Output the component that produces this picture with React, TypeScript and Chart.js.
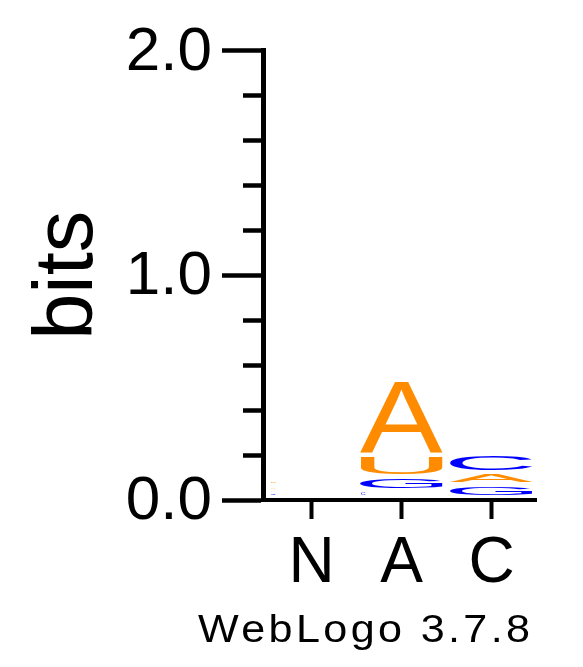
import { useEffect, useRef } from 'react';
import { Chart, registerables } from 'chart.js';

Chart.register(...registerables);

// ---- data ----
const categories = ['N', 'A', 'C'];
const positions = [0, 1, 2];

// stacked letters, bottom to top (bits)
const layer1Letters = ['C', 'C', 'G'];
const layer1Bits = [0.028, 0.031, 0.059];
const layer2Letters = ['A', 'G', 'A'];
const layer2Bits = [0.027, 0.062, 0.055];
const layer3Letters = ['U', 'U', 'C'];
const layer3Bits = [0.025, 0.097, 0.083];
const layer4Letters = ['', 'A', ''];
const layer4Bits = [0, 0.331, 0];

const yMajorTicks = [0, 1, 2];
const yTitle = 'bits';
const creditText = 'WebLogo 3.7.8';

const letterColors: Record<string, string> = {
  A: '#FF8C00',
  U: '#FF8C00',
  C: '#0000FF',
  G: '#0000FF',
};

const FONT = '"Liberation Sans", Arial, Helvetica, sans-serif';

const layers = [
  { letters: layer1Letters, bits: layer1Bits },
  { letters: layer2Letters, bits: layer2Bits },
  { letters: layer3Letters, bits: layer3Bits },
  { letters: layer4Letters, bits: layer4Bits },
];

const isMajor = (v: number) => yMajorTicks.some((m) => Math.abs(m - v) < 1e-6);

function drawGlyph(
  ctx: CanvasRenderingContext2D,
  letter: string,
  color: string,
  left: number,
  top: number,
  w: number,
  h: number
) {
  ctx.save();
  ctx.font = `100px ${FONT}`;
  ctx.textAlign = 'left';
  ctx.textBaseline = 'alphabetic';
  const m = ctx.measureText(letter);
  const inkW = m.actualBoundingBoxLeft + m.actualBoundingBoxRight;
  const inkH = m.actualBoundingBoxAscent + m.actualBoundingBoxDescent;
  ctx.translate(left, top);
  ctx.scale(w / inkW, h / inkH);
  ctx.fillStyle = color;
  ctx.fillText(letter, m.actualBoundingBoxLeft, m.actualBoundingBoxAscent);
  ctx.restore();
}

const glyphPlugin = {
  id: 'logoGlyphs',
  afterDatasetsDraw(chart: any) {
    const ctx: CanvasRenderingContext2D = chart.ctx;
    const area = chart.chartArea;
    ctx.save();
    ctx.beginPath();
    ctx.rect(area.left, area.top - 5, area.right - area.left, area.bottom - area.top + 5);
    ctx.clip();
    chart.data.datasets.forEach((ds: any, di: number) => {
      const meta = chart.getDatasetMeta(di);
      meta.data.forEach((el: any, i: number) => {
        const letter = ds.letters[i];
        const val = ds.data[i]?.y ?? 0;
        if (!letter || !val) return;
        const { x, y, base, width } = el.getProps(['x', 'y', 'base', 'width'], true);
        const top = Math.min(y, base);
        const bottom = Math.max(y, base);
        const pad = 4.5;
        let gh = bottom - pad - top;
        if (gh < 1) gh = 1;
        let left = x - width / 2;
        let gw = width;
        if (gh < 3.5) {
          gw = 4.5;
          left = left + 1;
        }
        drawGlyph(ctx, letter, letterColors[letter] || '#000', left, top, gw, gh);
      });
    });
    ctx.restore();
  },
};

const creditPlugin = {
  id: 'credit',
  afterDraw(chart: any) {
    const ctx: CanvasRenderingContext2D = chart.ctx;
    const area = chart.chartArea;
    const sx = 1.12;
    const spacing = 3;
    ctx.save();
    ctx.font = `38.5px ${FONT}`;
    (ctx as any).letterSpacing = `${spacing}px`;
    ctx.textAlign = 'left';
    ctx.textBaseline = 'alphabetic';
    ctx.fillStyle = '#000';
    const w = ctx.measureText(creditText).width - spacing;
    const rightX = area.right - 6.5;
    ctx.translate(rightX - w * sx, area.bottom + 141.7);
    ctx.scale(sx, 1);
    ctx.fillText(creditText, 0, 0);
    ctx.restore();
  },
};

export default function App() {
  const ref = useRef<HTMLCanvasElement | null>(null);

  useEffect(() => {
    if (!ref.current) return;
    const chart = new Chart(ref.current, {
      type: 'bar',
      data: {
        datasets: layers.map((l, li) => ({
          label: `layer${li + 1}`,
          letters: l.letters,
          data: positions.map((p, i) => ({ x: p, y: l.bits[i] })),
          backgroundColor: 'rgba(0,0,0,0)',
          borderWidth: 0,
          barPercentage: 0.922,
          categoryPercentage: 1,
        })) as any,
      },
      options: {
        responsive: false,
        animation: false,
        events: [],
        layout: { padding: { top: 50.5, right: 46.5, bottom: 0, left: 0 } },
        plugins: {
          legend: { display: false },
          tooltip: { enabled: false },
          title: { display: false },
        },
        scales: {
          x: {
            type: 'linear',
            min: -0.54,
            max: 2.5,
            stacked: true,
            offset: false,
            afterFit: (s: any) => {
              s.height = 167;
            },
            border: { display: true, color: '#000', width: 4 },
            grid: {
              offset: false,
              drawOnChartArea: false,
              drawTicks: true,
              tickLength: 19,
              tickWidth: 4,
              tickColor: '#000',
            },
            ticks: {
              stepSize: 1,
              includeBounds: false,
              autoSkip: false,
              maxRotation: 0,
              padding: 7,
              color: '#000',
              font: { family: FONT, size: 64 },
              callback: (v: any) => categories[v as number] ?? '',
            },
          },
          y: {
            type: 'linear',
            min: 0,
            max: 2,
            stacked: true,
            afterFit: (s: any) => {
              s.width = 263;
            },
            border: { display: true, color: '#000', width: 5 },
            grid: {
              drawOnChartArea: false,
              drawTicks: true,
              tickLength: 41,
              tickWidth: 4.5,
              tickColor: '#000',
              tickBorderDash: (c: any) => (isMajor(c.tick?.value ?? 0) ? [] : [0, 21, 21, 200]),
            },
            ticks: {
              stepSize: 0.2,
              autoSkip: false,
              padding: 10,
              labelOffset: 2,
              color: '#000',
              font: { family: FONT, size: 62 },
              callback: (v: any) => (isMajor(v as number) ? Number(v).toFixed(1) : ''),
            },
            title: {
              display: true,
              text: yTitle,
              color: '#000',
              font: { family: FONT, size: 83 },
              padding: { top: 19.4, bottom: 0 },
            },
          },
        },
      } as any,
      plugins: [glyphPlugin, creditPlugin],
    });
    return () => chart.destroy();
  }, []);

  return (
    <div style={{ position: 'fixed', left: 0, top: 0, width: 583, height: 667, background: '#fff' }}>
      <canvas ref={ref} width={583} height={667} style={{ display: 'block' }} />
    </div>
  );
}
